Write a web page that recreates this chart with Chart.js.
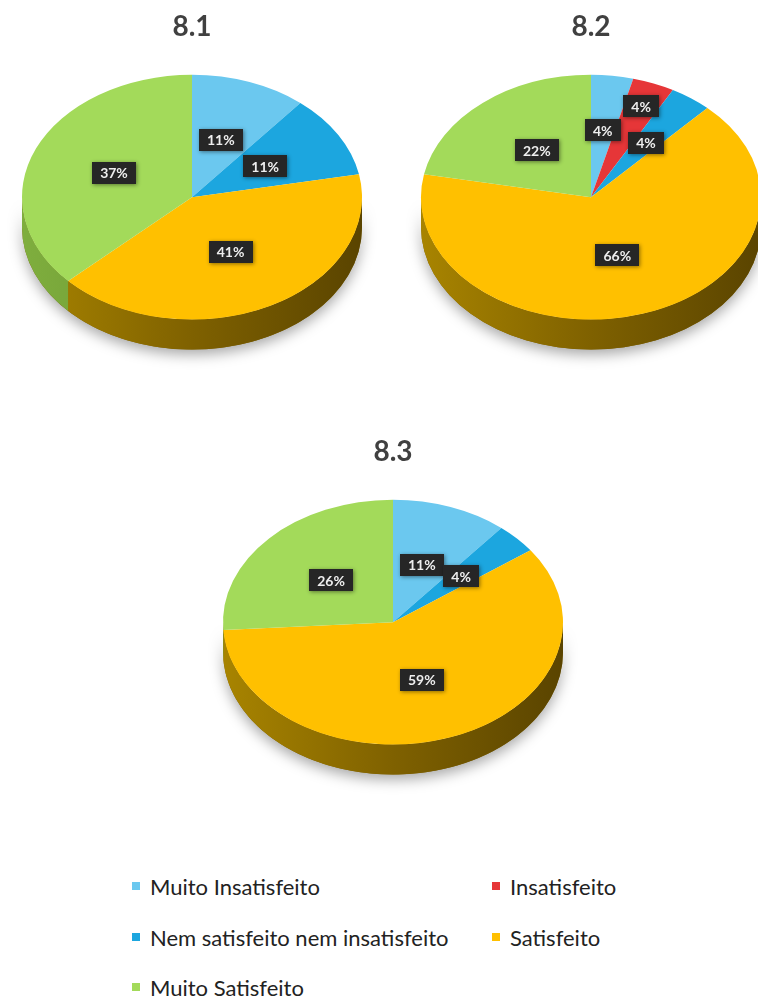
<!DOCTYPE html>
<html>
<head>
<meta charset="utf-8">
<script src="https://cdn.jsdelivr.net/npm/chart.js@4.4.0/dist/chart.umd.min.js"></script>
<style>
  html, body { margin: 0; padding: 0; background: #fff; overflow: hidden; }
  body { width: 758px; height: 997px; position: relative; font-family: Lato, "Open Sans", sans-serif; }
  .pie { position: absolute; }
  .legend-item { position: absolute; display: flex; align-items: center; font-size: 22px; color: #222; white-space: nowrap; }
  .legend-item span.box { width: 8px; height: 8px; margin-right: 10px; display: inline-block; }
</style>
</head>
<body>
<canvas id="c1" class="pie" width="370" height="415" style="left:7px;top:0px"></canvas>
<canvas id="c2" class="pie" width="370" height="415" style="left:406px;top:0px"></canvas>
<canvas id="c3" class="pie" width="370" height="415" style="left:208px;top:425px"></canvas>
<div id="legend"></div>

<script>
const categories = ["Muito Insatisfeito", "Insatisfeito", "Nem satisfeito nem insatisfeito", "Satisfeito", "Muito Satisfeito"];
const titles = ["8.1", "8.2", "8.3"];
const values81 = [11, 0, 11, 41, 37];
const values82 = [4, 4, 4, 66, 22];
const values83 = [11, 0, 4, 59, 26];

const colors = ['#6BC8EF', '#E63638', '#1CA6DF', '#FFC000', '#A3DA5A'];
// darker tones for the 3d rim: [left, mid, right]
const sideColors = [
  ['#4d9ec0', '#3f86a6', '#2f6a85'],
  ['#b82a2c', '#9c2224', '#7e1a1c'],
  ['#1684b2', '#126f96', '#0e5878'],
  ['#a88400', '#7f6100', '#5a4400'],
  ['#7fae3e', '#6a9632', '#557a26']
];

const SQUASH = 0.72;   // vertical flattening of the pie
const DEPTH = 30;      // thickness of the rim in px

// flattens the pie and draws the rim underneath
const pie3d = {
  id: 'pie3d',
  beforeDatasetsDraw(chart) {
    const ctx = chart.ctx;
    const arcs = chart.getDatasetMeta(0).data;
    const cx = arcs[0].x, cy = arcs[0].y, r = arcs[0].outerRadius;
    const top = cy - r;
    const d = DEPTH / SQUASH;
    ctx.save();
    ctx.translate(0, top);
    ctx.scale(1, SQUASH);
    ctx.translate(0, -top);

    // soft shadow under the pie
    ctx.save();
    ctx.shadowColor = 'rgba(0,0,0,0.35)';
    ctx.shadowBlur = 14;
    ctx.shadowOffsetY = 5;
    ctx.beginPath();
    ctx.arc(cx, cy + d, r, 0, Math.PI);
    ctx.arc(cx, cy, r, Math.PI, 0, true);
    ctx.closePath();
    ctx.fillStyle = '#7f6100';
    ctx.fill();
    ctx.restore();

    arcs.forEach((arc, i) => {
      const s = Math.max(arc.startAngle, 0);
      const e = Math.min(arc.endAngle, Math.PI);
      if (e <= s) return;
      const g = ctx.createLinearGradient(cx - r, 0, cx + r, 0);
      g.addColorStop(0, sideColors[i][0]);
      g.addColorStop(0.5, sideColors[i][1]);
      g.addColorStop(1, sideColors[i][2]);
      ctx.beginPath();
      ctx.arc(cx, cy, r, s, e);
      ctx.arc(cx, cy + d, r, e, s, true);
      ctx.closePath();
      ctx.fillStyle = g;
      ctx.fill();
    });
  },
  afterDatasetsDraw(chart) {
    const ctx = chart.ctx;
    ctx.restore();
    const arcs = chart.getDatasetMeta(0).data;
    const vals = chart.data.datasets[0].data;
    const cx = arcs[0].x, cy = arcs[0].y, r = arcs[0].outerRadius;
    const top = cy - r;
    ctx.save();
    ctx.font = 'bold 14px Lato, sans-serif';
    ctx.textAlign = 'center';
    ctx.textBaseline = 'middle';
    let small = 0;
    arcs.forEach((arc, i) => {
      const v = vals[i];
      if (!v) return;
      let f = 0.5;
      if (v < 6) { f = (small % 2 === 0) ? 0.55 : 0.8; small++; }
      const mid = (arc.startAngle + arc.endAngle) / 2;
      const x = cx + Math.cos(mid) * r * f;
      const y = top + (cy + Math.sin(mid) * r * f - top) * SQUASH;
      const txt = v + '%';
      const w = ctx.measureText(txt).width + 16;
      const h = 22;
      ctx.save();
      ctx.shadowColor = 'rgba(0,0,0,0.45)';
      ctx.shadowBlur = 4;
      ctx.shadowOffsetX = 1;
      ctx.shadowOffsetY = 1;
      ctx.fillStyle = '#262626';
      ctx.fillRect(Math.round(x - w / 2), Math.round(y - h / 2), Math.round(w), h);
      ctx.restore();
      ctx.fillStyle = '#eeeeee';
      ctx.fillText(txt, x, y + 1);
    });
    ctx.restore();
  }
};

function makePie(id, title, values) {
  new Chart(document.getElementById(id), {
    type: 'pie',
    data: {
      labels: categories,
      datasets: [{
        data: values,
        backgroundColor: colors,
        borderWidth: 0,
        hoverOffset: 0
      }]
    },
    options: {
      responsive: false,
      animation: false,
      layout: { padding: { left: 15, right: 15, top: 0, bottom: 0 } },
      plugins: {
        legend: { display: false },
        tooltip: { enabled: false },
        title: {
          display: true,
          text: title,
          color: '#404040',
          font: { family: 'Lato', size: 28, weight: 'bold' },
          padding: { top: 10, bottom: 31 }
        }
      }
    },
    plugins: [pie3d]
  });
}

makePie('c1', titles[0], values81);
makePie('c2', titles[1], values82);
makePie('c3', titles[2], values83);

// legend, two columns
const legendEl = document.getElementById('legend');
const colX = [132, 492];
const rowY = [886, 937, 987];
categories.forEach((name, i) => {
  const item = document.createElement('div');
  item.className = 'legend-item';
  item.style.left = colX[i % 2] + 'px';
  item.style.top = (rowY[Math.floor(i / 2)] - 14) + 'px';
  item.style.height = '28px';
  item.innerHTML = '<span class="box" style="background:' + colors[i] + '"></span>' + name;
  legendEl.appendChild(item);
});
</script>
</body>
</html>
